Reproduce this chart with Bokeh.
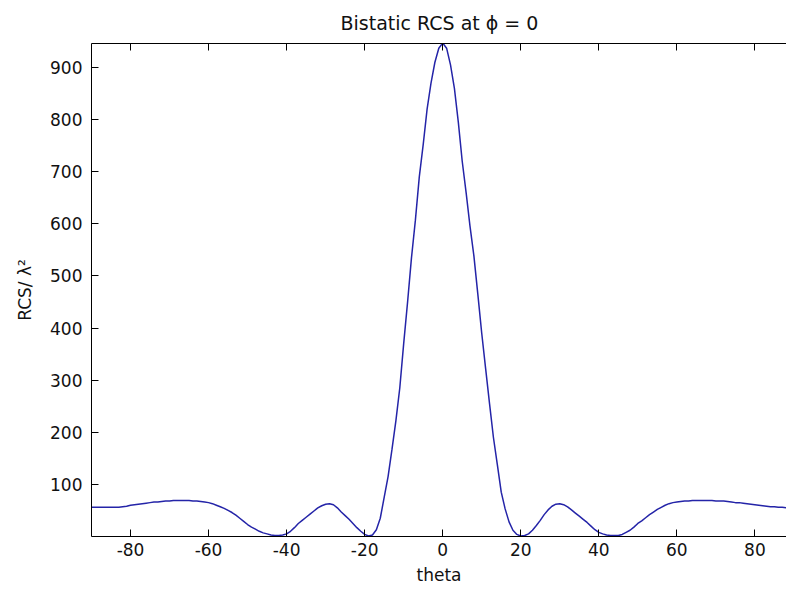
from bokeh.plotting import figure
from bokeh.models import LinearAxis, FixedTicker, Range1d
from bokeh.embed import file_html
from bokeh.resources import INLINE

# ---- data ----
theta = list(range(-90, 91))
rcs = [
    # -90 .. -83
    56, 56, 56, 56, 56, 56, 56, 56,
    # -82 .. -73
    57, 58, 60, 61, 62, 63, 64, 65, 66, 66,
    # -72 .. -63
    67, 68, 68, 69, 69, 69, 69, 69, 68, 68,
    # -62 .. -53
    67, 66, 65, 63, 60, 57, 54, 50, 46, 41,
    # -52 .. -43
    35, 29, 23, 18, 14, 10, 7, 5, 3, 2,
    # -42 .. -33
    2, 3, 5, 10, 17, 25, 31, 37, 43, 49,
    # -32 .. -23
    55, 59, 62, 63, 61, 55, 47, 40, 33, 25,
    # -22 .. -13
    17, 10, 4, 1, 3, 13, 35, 75, 115, 167,
    # -12 .. -1
    222, 285, 370, 450, 535, 607, 690, 752, 820, 870, 910, 937,
    # 0
    947,
    # 1 .. 10
    937, 905, 860, 795, 720, 660, 595, 538, 465, 390,
    # 11 .. 20
    322, 255, 190, 138, 85, 53, 28, 12, 4, 1,
    # 21 .. 30
    2, 5, 12, 21, 31, 42, 51, 58, 62, 63,
    # 31 .. 40
    61, 57, 51, 45, 39, 33, 27, 20, 13, 8,
    # 41 .. 50
    5, 3, 2, 2, 2, 4, 8, 12, 18, 25,
    # 51 .. 60
    30, 36, 42, 47, 52, 56, 60, 63, 65, 66,
    # 61 .. 70
    67, 68, 68, 69, 69, 69, 69, 69, 69, 68,
    # 71 .. 80
    68, 68, 67, 66, 65, 65, 64, 63, 62, 61,
    # 81 .. 90
    60, 59, 58, 57, 57, 56, 56, 55, 55, 55,
]
x_ticks = [-80, -60, -40, -20, 0, 20, 40, 60, 80]
x_tick_labels = ["-80", "-60", "-40", "-20", "0", "20", "40", "60", "80"]
y_ticks = [100, 200, 300, 400, 500, 600, 700, 800, 900]

title_text = "Bistatic RCS at \u03d5 = 0"
x_label = "theta"
y_label = "RCS/ \u03bb\u00b2"

FONT = "DejaVu Sans"

p = figure(
    width=786, height=591,
    x_range=Range1d(-90, 88.1), y_range=Range1d(0, 946),
    output_backend="svg", toolbar_location=None,
    min_border_left=91, min_border_right=0,
    min_border_top=43, min_border_bottom=55,
)
p.background_fill_color = "white"
p.border_fill_color = "white"
p.outline_line_color = None
p.grid.visible = False

p.title.text = title_text
p.title.align = "left"
p.title.offset = 249
p.title.standoff = 19
p.title.text_font = FONT
p.title.text_font_size = "19px"
p.title.text_font_style = "normal"
p.title.text_color = "#111111"

p.line(theta, rcs, line_color="#2424a8", line_width=1.5)

for ax in (p.xaxis[0], p.yaxis[0]):
    ax.major_tick_in = 7
    ax.major_tick_out = 0
    ax.minor_tick_in = 0
    ax.minor_tick_out = 0
    ax.axis_line_color = "black"
    ax.major_tick_line_color = "black"
    ax.major_label_text_font = FONT
    ax.major_label_text_font_size = "17px"
    ax.major_label_text_color = "#111111"
    ax.axis_label_text_font = FONT
    ax.axis_label_text_font_size = "17px"
    ax.axis_label_text_font_style = "normal"
    ax.axis_label_text_color = "#111111"

p.xaxis[0].ticker = FixedTicker(ticks=x_ticks)
p.xaxis[0].major_label_overrides = dict(zip(x_ticks, x_tick_labels))
p.xaxis[0].axis_label = x_label
p.xaxis[0].major_label_standoff = 6
p.xaxis[0].axis_label_standoff = 6

p.yaxis[0].ticker = FixedTicker(ticks=y_ticks)
p.yaxis[0].axis_label = y_label
p.yaxis[0].major_label_standoff = 9
p.yaxis[0].axis_label_standoff = 12

# top box edge with inward ticks, no labels drawn
top = LinearAxis(
    ticker=FixedTicker(ticks=x_ticks),
    major_tick_in=7, major_tick_out=0,
    minor_tick_in=0, minor_tick_out=0,
    major_label_text_font_size="0px",
    major_label_text_alpha=0,
    major_label_text_color=None,
    major_label_standoff=0,
    axis_line_color="black",
    major_tick_line_color="black",
)
p.add_layout(top, "above")

open("out.html", "w").write(file_html(p, INLINE))
